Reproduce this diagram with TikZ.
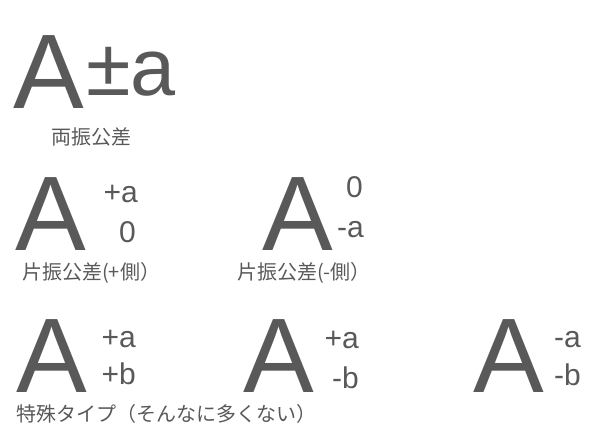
\documentclass[tikz,border=0pt]{standalone}
\usepackage{fontspec}
\setmainfont{Liberation Sans}
\newfontfamily\jpfont{Noto Sans CJK JP}
\usepackage{tikz}
\definecolor{textgray}{RGB}{89,89,89}
\tikzset{
  bigA/.style={inner sep=0pt, anchor=base west, text depth=0pt, text=textgray, font=\fontsize{106}{106}\selectfont},
  tol/.style={inner sep=0pt, anchor=base east, text depth=0pt, text=textgray, font=\fontsize{30}{30}\selectfont},
  label/.style={inner sep=0pt, anchor=base west, text=textgray, font=\jpfont\fontsize{20}{20}\selectfont}
}

\begin{document}
\begin{tikzpicture}[x=1pt,y=-1pt]
    \useasboundingbox (0,0) rectangle (600,445);
    % ryoufuri
    \node[bigA] (aTop) at (13,108) {A};
    \node[inner sep=0pt, anchor=base west, text depth=0pt, text=textgray,
          font=\fontsize{81}{81}\selectfont] (pmTop) at (86,95) {±a};
    \node[label] (capTop) at (51,144) {両振公差};
    % katafuri +
    \node[bigA] (aPlus) at (15,250) {A};
    \node[tol] (plusUp) at (138,202) {+a};
    \node[tol] (plusLow) at (136,242) {0};
    \node[label] (capPlus) at (22,279) {片振公差(+側）};
    % katafuri -
    \node[bigA] (aMinus) at (262,250) {A};
    \node[tol] (minusUp) at (363,197) {0};
    \node[tol] (minusLow) at (364,237) {-a};
    \node[label] (capMinus) at (237,279) {片振公差(-側）};
    % tokushu
    \node[bigA] (aSpA) at (16,392) {A};
    \node[tol] (spAUp) at (136,347) {+a};
    \node[tol] (spALow) at (136,384) {+b};
    \node[bigA] (aSpB) at (243,392) {A};
    \node[tol] (spBUp) at (359,348) {+a};
    \node[tol] (spBLow) at (359,388) {-b};
    \node[bigA] (aSpC) at (473,392) {A};
    \node[tol] (spCUp) at (581,347) {-a};
    \node[tol] (spCLow) at (581,385) {-b};
    \node[label] (capSp) at (16,421) {特殊タイプ（そんなに多くない）};
\end{tikzpicture}
\end{document}
